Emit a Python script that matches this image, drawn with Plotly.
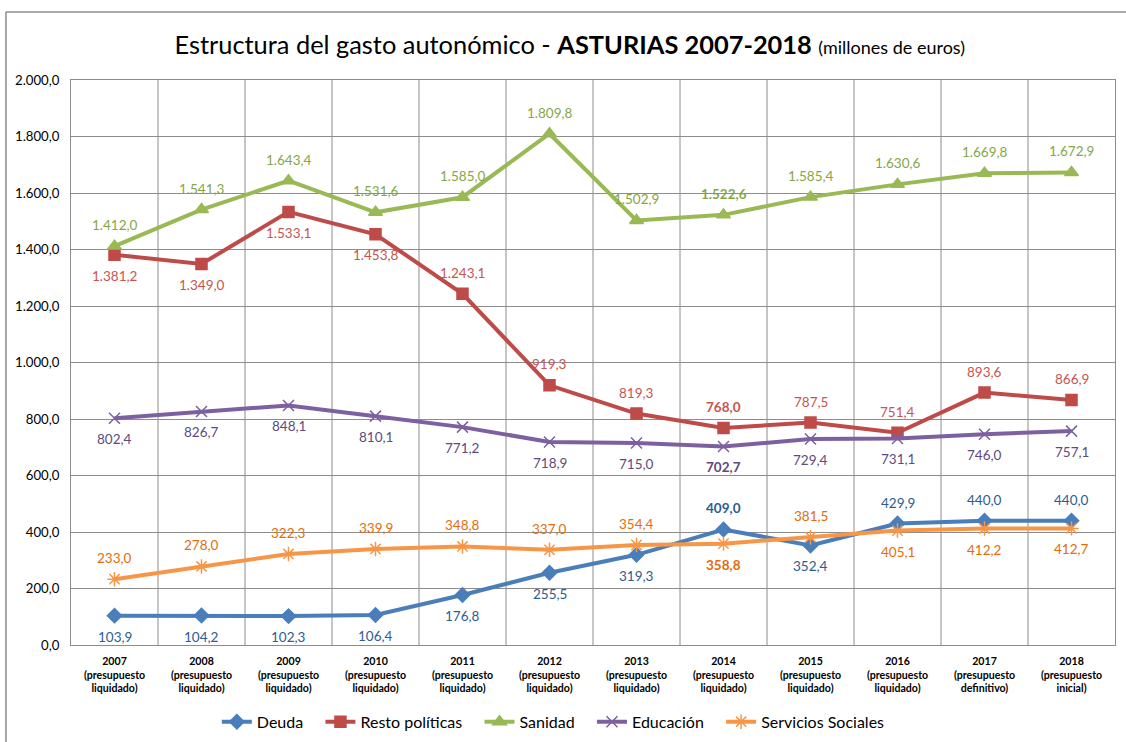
import plotly.graph_objects as go

years = ["2007", "2008", "2009", "2010", "2011", "2012", "2013", "2014", "2015", "2016", "2017", "2018"]
budget_type = ["presupuesto<br>liquidado)"] * 10 + ["presupuesto<br>definitivo)", "presupuesto<br>inicial)"]

deuda = [103.9, 104.2, 102.3, 106.4, 176.8, 255.5, 319.3, 409.0, 352.4, 429.9, 440.0, 440.0]
resto = [1381.2, 1349.0, 1533.1, 1453.8, 1243.1, 919.3, 819.3, 768.0, 787.5, 751.4, 893.6, 866.9]
sanidad = [1412.0, 1541.3, 1643.4, 1531.6, 1585.0, 1809.8, 1502.9, 1522.6, 1585.4, 1630.6, 1669.8, 1672.9]
educacion = [802.4, 826.7, 848.1, 810.1, 771.2, 718.9, 715.0, 702.7, 729.4, 731.1, 746.0, 757.1]
servicios = [233.0, 278.0, 322.3, 339.9, 348.8, 337.0, 354.4, 358.8, 381.5, 405.1, 412.2, 412.7]

tick_labels = ["<b>%s</b><br><b>(%s</b>" % (y, b.replace("<br>", "</b><br><b>")) for y, b in zip(years, budget_type)]
x = list(range(len(years)))

PAD = "\u00a0\u00a0\u00a0"
# label side: 1 above, -1 below
series = [
    dict(name="Deuda", y=deuda, color="#4A7EBB", text="#2C5C94", symbol="diamond", size=11,
         side=[-1, -1, -1, -1, -1, -1, -1, 1, -1, 1, 1, 1]),
    dict(name="Resto políticas", y=resto, color="#BE4B48", text="#C85450", symbol="square", size=11,
         side=[-1, -1, -1, -1, 1, 1, 1, 1, 1, 1, 1, 1]),
    dict(name="Sanidad", y=sanidad, color="#98B954", text="#86A647", symbol="triangle-up", size=12,
         side=[1] * 12),
    dict(name="Educación", y=educacion, color="#7D60A0", text="#5E4A7E", symbol="x-thin-open", size=11,
         side=[-1] * 12),
    dict(name="Servicios Sociales", y=servicios, color="#F79646", text="#E46C0A", symbol="asterisk-open", size=12,
         side=[1, 1, 1, 1, 1, 1, 1, -1, 1, -1, -1, -1]),
]

def fmt(v):
    s = f"{v:,.1f}"
    return s.replace(",", "X").replace(".", ",").replace("X", ".")

FONT = "Lato"
fig = go.Figure()
annotations = []
for k, s in enumerate(series):
    fig.add_trace(go.Scatter(
        x=x, y=s["y"], name=s["name"] + (PAD if k < len(series) - 1 else ""), mode="lines+markers",
        line=dict(color=s["color"], width=4),
        marker=dict(symbol=s["symbol"], size=s["size"], color=s["color"],
                    line=dict(color=s["color"], width=1.5)),
    ))
    for i, v in enumerate(s["y"]):
        t = fmt(v)
        if i == 7:
            t = "<b>" + t + "</b>"
        annotations.append(dict(
            x=i, y=v, xref="x", yref="y", text=t, showarrow=False,
            yshift=21 * s["side"][i], font=dict(family=FONT, size=13.5, color=s["text"]),
        ))

# outer frame lines
shapes = [
    dict(type="line", xref="paper", yref="paper", x0=-0.0623, x1=-0.0623, y0=-0.3, y1=1.1204,
         line=dict(color="#8C8C8C", width=1.5)),
    dict(type="line", xref="paper", yref="paper", x0=-0.0623, x1=1.2, y0=1.1204, y1=1.1204,
         line=dict(color="#8C8C8C", width=1.5)),
]

fig.update_layout(
    width=1126, height=742,
    margin=dict(l=71, r=11, t=80, b=97, autoexpand=False),
    paper_bgcolor="white", plot_bgcolor="white",
    separators=",.",
    font=dict(family=FONT, color="black"),
    title=dict(
        text="Estructura del gasto autonómico - <b>ASTURIAS 2007-2018</b> <span style='font-size:18px'>(millones de euros)</span>",
        x=0.506, xanchor="center", y=0.939, yanchor="middle",
        font=dict(family=FONT, size=25.4, color="black"),
    ),
    xaxis=dict(
        type="linear", range=[-0.5, 11.5], tickmode="array", tickvals=x, ticktext=tick_labels,
        showgrid=False, zeroline=False, showline=True, linecolor="#8C8C8C", linewidth=1, mirror=True,
        ticks="", tickfont=dict(family=FONT, size=10.6, color="black"), automargin=False,
        ticklabelstandoff=6,
    ),
    yaxis=dict(
        range=[0, 2000], dtick=200, tickformat=",.1f", showgrid=True, gridcolor="#8C8C8C", gridwidth=1,
        zeroline=False, showline=True, linecolor="#8C8C8C", linewidth=1, mirror=True,
        ticks="", tickfont=dict(family=FONT, size=13.2, color="black"), ticklabelstandoff=8,
        automargin=False,
    ),
    legend=dict(orientation="h", x=0.462, xanchor="center", y=-0.136, yanchor="middle",
                font=dict(family=FONT, size=16, color="black"), tracegroupgap=0),
    annotations=annotations,
    shapes=shapes,
    showlegend=True,
)

# vertical gridlines at category boundaries
for b in range(1, len(years)):
    fig.add_shape(type="line", xref="x", yref="paper", x0=b - 0.5, x1=b - 0.5, y0=0, y1=1,
                  line=dict(color="#8C8C8C", width=1), layer="below")

fig.write_html("out.html", config={"displayModeBar": False},
               post_script="document.body.style.margin='0';document.documentElement.style.overflow='hidden';")
